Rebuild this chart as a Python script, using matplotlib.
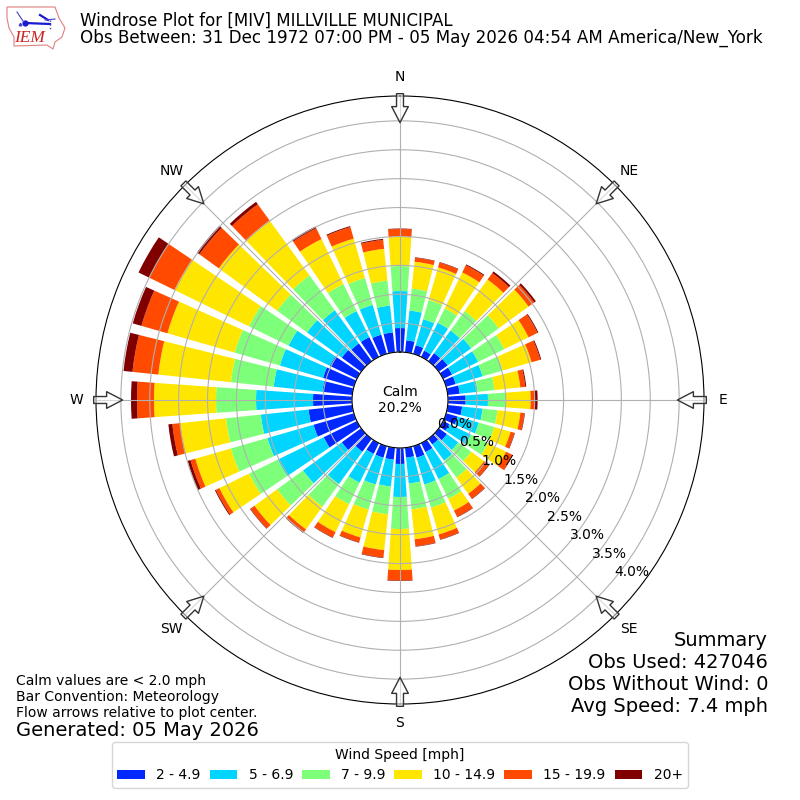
import numpy as np
import matplotlib
matplotlib.use("Agg")
import matplotlib.pyplot as plt
from matplotlib.patches import Polygon

# Direction the wind blows from, degrees clockwise from north
directions = np.arange(0, 360, 10)

# Percent of observations per direction, one list per speed bin
speed_2_5 = [0.415, 0.208, 0.156, 0.121, 0.173, 0.190, 0.173, 0.173, 0.208,
             0.306, 0.251, 0.208, 0.121, 0.173, 0.121, 0.173, 0.208, 0.173,
             0.277, 0.208, 0.208, 0.208, 0.277, 0.415, 0.640, 0.727, 0.761,
             0.675, 0.519, 0.554, 0.519, 0.415, 0.381, 0.381, 0.346, 0.346]
speed_5_7 = [0.640, 0.519, 0.467, 0.536, 0.484, 0.502, 0.502, 0.484, 0.311,
             0.386, 0.355, 0.381, 0.415, 0.242, 0.346, 0.519, 0.484, 0.450,
             0.571, 0.467, 0.484, 0.554, 0.692, 0.830, 0.882, 0.830, 0.830,
             0.986, 0.848, 0.779, 0.796, 0.744, 0.709, 0.502, 0.536, 0.467]
speed_7_10 = [0.433, 0.381, 0.346, 0.277, 0.415, 0.588, 0.502, 0.363, 0.294,
              0.311, 0.260, 0.277, 0.329, 0.277, 0.363, 0.381, 0.415, 0.450,
              0.554, 0.484, 0.450, 0.415, 0.484, 0.554, 0.554, 0.657, 0.606,
              0.692, 0.744, 0.813, 0.761, 0.640, 0.744, 0.519, 0.484, 0.433]
speed_10_15 = [0.502, 0.467, 0.588, 0.692, 0.675, 0.640, 0.467, 0.519, 0.450,
               0.427, 0.398, 0.294, 0.346, 0.277, 0.346, 0.225, 0.484, 0.519,
               0.709, 0.623, 0.502, 0.536, 0.484, 0.484, 0.571, 0.640, 0.796,
               1.073, 1.263, 1.211, 1.436, 1.246, 1.176, 0.865, 0.709, 0.554]
speed_15_20 = [0.138, 0.069, 0.087, 0.138, 0.138, 0.121, 0.173, 0.156, 0.087,
               0.074, 0.069, 0.069, 0.121, 0.104, 0.104, 0.121, 0.087, 0.121,
               0.182, 0.130, 0.087, 0.104, 0.069, 0.087, 0.069, 0.087, 0.138,
               0.294, 0.450, 0.467, 0.484, 0.415, 0.346, 0.208, 0.208, 0.156]
speed_20_up = [0.009, 0.009, 0.009, 0.017, 0.035, 0.035, 0.017, 0.017, 0.017,
               0.047, 0.009, 0.009, 0.009, 0.009, 0.009, 0.009, 0.009, 0.009,
               0.009, 0.009, 0.009, 0.009, 0.009, 0.009, 0.017, 0.052, 0.069,
               0.104, 0.156, 0.156, 0.208, 0.052, 0.052, 0.035, 0.017, 0.017]

speed_series = [speed_2_5, speed_5_7, speed_7_10, speed_10_15, speed_15_20, speed_20_up]
speed_labels = ["2 - 4.9", "5 - 6.9", "7 - 9.9", "10 - 14.9", "15 - 19.9", "20+"]
speed_colors = ["#0028ff", "#00d4ff", "#7dff7a", "#ffe600", "#ff4a00", "#800000"]

compass_angles = np.arange(0, 360, 45)
compass_labels = ["N", "NE", "E", "SE", "S", "SW", "W", "NW"]
ring_values = np.arange(0, 4.5, 0.5)

fig = plt.figure(figsize=(8, 8), dpi=100)
ax = fig.add_axes([96 / 800, 96 / 800, 608 / 800, 608 / 800], projection="polar")
ax.set_theta_zero_location("N")
ax.set_theta_direction(-1)

theta = np.radians(directions)
bottom = np.zeros(len(directions))
for values, label, color in zip(speed_series, speed_labels, speed_colors):
    ax.bar(theta, values, width=np.radians(8), bottom=bottom, color=color,
           edgecolor="none", label=label)
    bottom = bottom + np.array(values)

ax.set_rorigin(-0.83)
ax.set_rmin(0)
ax.set_rmax(4.43)
ax.set_thetagrids(compass_angles, compass_labels)
ax.set_rgrids(ring_values, [f"{v:.1f}%" for v in ring_values])
ax.set_rlabel_position(130)
ax.grid(True)

# Flow arrows on the rim, all pointing at the centre
for angle in compass_angles:
    ax.annotate("", xy=(np.radians(angle), 3.97), xytext=(np.radians(angle), 4.47),
                arrowprops=dict(width=5, headwidth=12, headlength=11.5,
                                facecolor=(1, 1, 1, 0.5), edgecolor="#333333", lw=1.0,
                                shrink=0),
                annotation_clip=False)

ax.text(0.5, 0.5, "Calm\n20.2%", transform=ax.transAxes, ha="center", va="center",
        fontsize=10)

fig.text(80 / 800, 1 - 12 / 800, "Windrose Plot for [MIV] MILLVILLE MUNICIPAL",
         ha="left", va="top", fontsize=12)
fig.text(80 / 800, 1 - 29 / 800,
         "Obs Between: 31 Dec 1972 07:00 PM - 05 May 2026 04:54 AM America/New_York",
         ha="left", va="top", fontsize=12.03)
fig.text(16 / 800, 1 - 720 / 800,
         "Calm values are < 2.0 mph\nBar Convention: Meteorology\n"
         "Flow arrows relative to plot center.",
         ha="left", va="bottom", fontsize=10)
fig.text(16 / 800, 1 - 740 / 800, "Generated: 05 May 2026", ha="left", va="bottom",
         fontsize=14)
fig.text(768 / 800, 1 - 716 / 800,
         "Summary\nObs Used: 427046\nObs Without Wind: 0\nAvg Speed: 7.4 mph",
         ha="right", va="bottom", fontsize=14)

handles, labels = ax.get_legend_handles_labels()
fig.legend(handles, labels, title="Wind Speed [mph]", ncol=6, loc="lower center",
           bbox_to_anchor=(0.5, 1 - 788 / 800), borderaxespad=0, columnspacing=0.65)

# IEM logo, drawn in pixel coordinates of a small corner axes
logo = fig.add_axes([0, 1 - 55 / 800, 70 / 800, 55 / 800])
logo.set_xlim(0, 70)
logo.set_ylim(55, 0)
logo.axis("off")
outline = [(7, 7), (55, 7), (59, 18), (65, 28), (62, 37), (55, 42), (53, 49), (47, 45),
           (14, 46), (14, 37), (9, 28), (7, 18)]
logo.add_patch(Polygon(outline, closed=True, fill=False, edgecolor="#e08080", lw=0.8))
logo.plot([25, 50], [23, 24], color="#1a1ad0", lw=1.6)
logo.plot([25], [23], "o", color="#1a1ad0", ms=3.5)
logo.plot([17, 23], [12, 21], color="#4040d0", lw=0.8)
logo.plot([40, 48], [15, 20], color="#1a1ad0", lw=1.6)
logo.plot([45, 55], [20, 19], color="#4040d0", lw=0.8)
logo.plot([50, 50], [20, 30], color="#4040d0", lw=1.0, ls=":")
logo.plot([20], [24], "^", color="#4040d0", ms=1.8)
logo.text(30, 38, "IEM", color="#cc2222", family="Liberation Serif", style="italic",
          fontsize=12.5, ha="center", va="center")

fig.savefig("out.png", dpi=100)
